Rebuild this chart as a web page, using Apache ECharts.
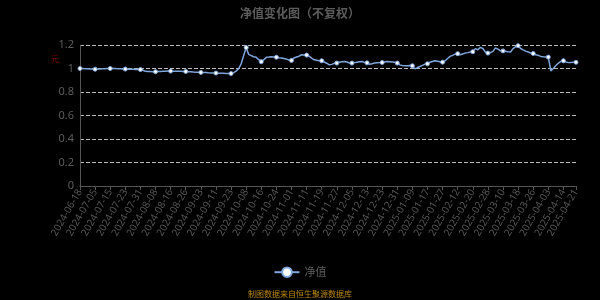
<!DOCTYPE html>
<html>
<head>
<meta charset="utf-8">
<script src="https://cdn.jsdelivr.net/npm/echarts@6/dist/echarts.min.js"></script>
<style>
html,body{margin:0;padding:0;background:#000;}
#c{width:600px;height:300px;}
</style>
</head>
<body>
<div id="c"></div>
<script>
const titleText = '净值变化图（不复权）';
const seriesName = '净值';
const unitName = '元';
const sourceText = '制图数据来自恒生聚源数据库';
const yTicks = [0, 0.2, 0.4, 0.6, 0.8, 1.0, 1.2];

const dates = [
'2024-06-18','2024-06-21','2024-06-28','2024-07-02','2024-07-03','2024-07-04',
'2024-07-05','2024-07-08','2024-07-09','2024-07-10','2024-07-11','2024-07-12',
'2024-07-15','2024-07-16','2024-07-17','2024-07-18','2024-07-19','2024-07-22',
'2024-07-23','2024-07-24','2024-07-25','2024-07-26','2024-07-29','2024-07-30',
'2024-07-31','2024-08-01','2024-08-02','2024-08-05','2024-08-06','2024-08-07',
'2024-08-08','2024-08-09','2024-08-12','2024-08-13','2024-08-14','2024-08-15',
'2024-08-16','2024-08-19','2024-08-20','2024-08-21','2024-08-22','2024-08-23',
'2024-08-26','2024-08-27','2024-08-28','2024-08-29','2024-08-30','2024-09-02',
'2024-09-03','2024-09-04','2024-09-05','2024-09-06','2024-09-09','2024-09-10',
'2024-09-11','2024-09-12','2024-09-13','2024-09-18','2024-09-19','2024-09-20',
'2024-09-23','2024-09-24','2024-09-25','2024-09-26','2024-09-27','2024-09-30',
'2024-10-08','2024-10-09','2024-10-10','2024-10-11','2024-10-14','2024-10-15',
'2024-10-16','2024-10-17','2024-10-18','2024-10-21','2024-10-22','2024-10-23',
'2024-10-24','2024-10-25','2024-10-28','2024-10-29','2024-10-30','2024-10-31',
'2024-11-01','2024-11-04','2024-11-05','2024-11-06','2024-11-07','2024-11-08',
'2024-11-11','2024-11-12','2024-11-13','2024-11-14','2024-11-15','2024-11-18',
'2024-11-19','2024-11-20','2024-11-21','2024-11-22','2024-11-25','2024-11-26',
'2024-11-27','2024-11-28','2024-11-29','2024-12-02','2024-12-03','2024-12-04',
'2024-12-05','2024-12-06','2024-12-09','2024-12-10','2024-12-11','2024-12-12',
'2024-12-13','2024-12-16','2024-12-17','2024-12-18','2024-12-19','2024-12-20',
'2024-12-23','2024-12-24','2024-12-25','2024-12-26','2024-12-27','2024-12-30',
'2024-12-31','2025-01-02','2025-01-03','2025-01-06','2025-01-07','2025-01-08',
'2025-01-09','2025-01-10','2025-01-13','2025-01-14','2025-01-15','2025-01-16',
'2025-01-17','2025-01-20','2025-01-21','2025-01-22','2025-01-23','2025-01-24',
'2025-01-27','2025-02-05','2025-02-06','2025-02-07','2025-02-10','2025-02-11',
'2025-02-12','2025-02-13','2025-02-14','2025-02-17','2025-02-18','2025-02-19',
'2025-02-20','2025-02-21','2025-02-24','2025-02-25','2025-02-26','2025-02-27',
'2025-02-28','2025-03-03','2025-03-04','2025-03-05','2025-03-06','2025-03-07',
'2025-03-10','2025-03-11','2025-03-12','2025-03-13','2025-03-14','2025-03-17',
'2025-03-18','2025-03-19','2025-03-20','2025-03-21','2025-03-24','2025-03-25',
'2025-03-26','2025-03-27','2025-03-28','2025-03-31','2025-04-01','2025-04-02',
'2025-04-03','2025-04-07','2025-04-08','2025-04-09','2025-04-10','2025-04-11',
'2025-04-14','2025-04-15','2025-04-16','2025-04-17','2025-04-18','2025-04-21'
];

const nav = [
1.000,0.999,0.998,0.997,0.996,0.995,
0.994,0.995,0.996,0.997,0.998,0.999,
1.000,1.000,0.999,0.998,0.997,0.996,
0.995,0.994,0.993,0.993,0.992,0.992,
0.991,0.985,0.976,0.974,0.974,0.973,
0.973,0.974,0.975,0.976,0.977,0.978,
0.978,0.977,0.977,0.976,0.976,0.975,
0.975,0.973,0.972,0.970,0.969,0.968,
0.967,0.966,0.965,0.963,0.962,0.962,
0.961,0.960,0.959,0.959,0.958,0.958,
0.957,0.965,0.978,0.998,1.040,1.110,
1.178,1.120,1.110,1.100,1.095,1.075,
1.058,1.075,1.095,1.097,1.100,1.098,
1.096,1.092,1.090,1.085,1.080,1.073,
1.069,1.090,1.098,1.105,1.117,1.115,
1.114,1.105,1.088,1.074,1.070,1.066,
1.066,1.055,1.045,1.031,1.035,1.044,
1.046,1.054,1.057,1.060,1.055,1.047,
1.046,1.050,1.054,1.057,1.060,1.052,
1.048,1.037,1.041,1.046,1.048,1.050,
1.051,1.055,1.060,1.058,1.056,1.054,
1.046,1.031,1.026,1.023,1.024,1.026,
1.023,0.997,1.008,1.017,1.027,1.037,
1.040,1.054,1.060,1.066,1.062,1.058,
1.054,1.066,1.085,1.103,1.112,1.122,
1.126,1.117,1.124,1.131,1.135,1.140,
1.143,1.169,1.160,1.180,1.170,1.140,
1.131,1.135,1.146,1.174,1.165,1.151,
1.150,1.146,1.142,1.140,1.169,1.185,
1.194,1.170,1.158,1.148,1.140,1.131,
1.128,1.117,1.112,1.103,1.100,1.098,
1.097,0.980,1.000,1.025,1.045,1.060,
1.066,1.055,1.050,1.052,1.053,1.053
];

const lastIdx = dates.length - 1;
const showIdx = (i) => i % 6 === 0 || i === lastIdx;

const chart = echarts.init(document.getElementById('c'), null, {renderer: 'canvas'});
chart.setOption({
  backgroundColor: '#000',
  animation: false,
  title: {
    text: titleText,
    left: 'center',
    top: 2,
    textStyle: {color: '#5c5c5c', fontSize: 12, fontWeight: 'bold', fontFamily: 'Noto Sans CJK SC'}
  },
  legend: {
    bottom: 17,
    left: 'center',
    itemWidth: 25,
    itemHeight: 12,
    itemGap: 10,
    data: [seriesName],
    textStyle: {color: '#5c5c5c', fontSize: 11, fontFamily: 'Noto Sans CJK SC'}
  },
  graphic: [
    {type: 'text', left: 'center', top: 290,
     style: {text: sourceText, fill: '#b8860b', fontSize: 8, fontFamily: 'Noto Sans CJK SC'}},
    {type: 'text', left: 51, top: 55,
     style: {text: unitName, fill: '#8b0000', fontSize: 8, fontFamily: 'Noto Sans CJK SC'}}
  ],
  grid: {left: 80, right: 24, top: 45, bottom: 114, containLabel: false},
  xAxis: {
    type: 'category',
    data: dates,
    boundaryGap: false,
    axisLine: {lineStyle: {color: '#555'}},
    axisTick: {interval: (i) => showIdx(i), length: 4, lineStyle: {color: '#555'}},
    axisLabel: {
      interval: (i) => showIdx(i),
      rotate: 60,
      color: '#555',
      fontSize: 10,
      fontFamily: 'Noto Sans',
      margin: 4
    },
    splitLine: {show: false}
  },
  yAxis: {
    type: 'value',
    min: yTicks[0],
    max: yTicks[yTicks.length - 1],
    interval: 0.2,
    axisLine: {show: true, lineStyle: {color: '#555'}},
    axisTick: {show: false},
    axisLabel: {color: '#5c5c5c', fontSize: 11, fontFamily: 'Noto Sans', margin: 6},
    splitLine: {lineStyle: {color: '#bbb', type: 'dashed', width: 1}}
  },
  series: [{
    name: seriesName,
    type: 'line',
    data: nav,
    showAllSymbol: true,
    symbol: 'circle',
    symbolSize: (v, p) => showIdx(p.dataIndex) ? 4 : 0,
    lineStyle: {color: '#7fa6dc', width: 1.5},
    itemStyle: {color: '#ffffff', borderColor: '#7fa6dc', borderWidth: 1},
    emphasis: {disabled: true}
  }]
});
</script>
</body>
</html>
